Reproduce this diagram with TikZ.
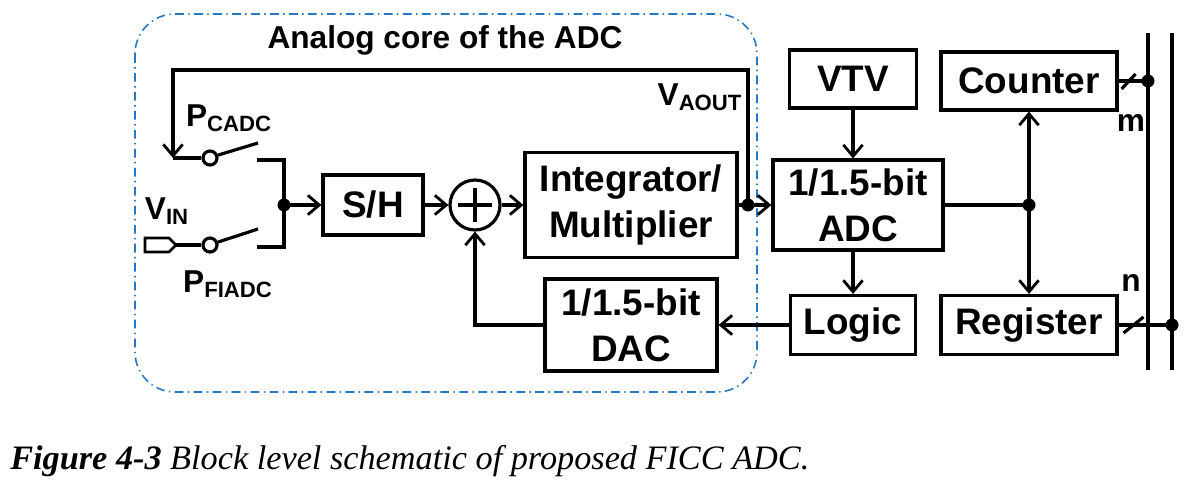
\documentclass[tikz,border=0pt]{standalone}
\usepackage{fontspec}
\setmainfont{Liberation Serif}
\setsansfont{Liberation Sans}
\usepackage{xcolor}
\usepackage{tikz}
\usetikzlibrary{calc}
\usetikzlibrary{arrows.meta}
\definecolor{coreblue}{RGB}{38,120,196}
\tikzstyle{wire} = [line width=1.8pt]
\tikzstyle{arrow} = [wire, -{Straight Barb[length=6.5pt,width=11pt,line width=1.6pt]}]
\tikzstyle{block} = [draw, line width=1.8pt, align=center, inner sep=0pt,
	font=\sffamily\bfseries\fontsize{21}{26}\selectfont]
\tikzstyle{lbl} = [font=\sffamily\bfseries\fontsize{18}{20}\selectfont, inner sep=0pt]
\tikzstyle{dot} = [circle, fill, inner sep=0pt, minimum size=0.26cm]
\tikzstyle{swpin} = [circle, draw, fill=white, line width=1.8pt, inner sep=0pt, minimum size=0.28cm]
\tikzstyle{core} = [draw=coreblue, line width=0.9pt, rounded corners=0.8cm,
	dash pattern=on 5pt off 2.5pt on 0.8pt off 2.5pt]

\begin{document}
\begin{tikzpicture}[x=0.02cm,y=-0.02cm]
	\useasboundingbox (0,0) rectangle (1186,489);

	% analog core
	\draw[core] (135,14) rectangle (757,392);
	\node[lbl] (title) at (445,40) {Analog core of the ADC};

	% blocks
	\node[block, minimum width=2cm, minimum height=1.2cm] (sh) at (373,205) {S/H};
	\node[circle, draw, line width=1.8pt, minimum size=1cm] (sum) at (475,205) {};
	\draw[wire] ([xshift=-0.34cm]sum.center) -- ([xshift=0.34cm]sum.center);
	\draw[wire] ([yshift=-0.34cm]sum.center) -- ([yshift=0.34cm]sum.center);
	\node[block, minimum width=4.24cm, minimum height=2.1cm] (integ) at (631,205) {Integrator/\\Multiplier};
	\node[block, minimum width=3.44cm, minimum height=1.84cm] (dac) at (631,325) {1/1.5-bit\\DAC};
	\node[block, minimum width=2.54cm, minimum height=1.16cm] (vtv) at (853,79) {VTV};
	\node[block, minimum width=3.4cm, minimum height=1.8cm] (adc) at (858,205) {1/1.5-bit\\ADC};
	\node[block, minimum width=2.5cm, minimum height=1.18cm] (logic) at (853,325) {Logic};
	\node[block, minimum width=3.52cm, minimum height=1.16cm] (cnt) at (1029,81) {Counter};
	\node[block, minimum width=3.52cm, minimum height=1.18cm] (reg) at (1029,325) {Register};

	% switches
	\coordinate (pcin) at (173,158);
	\node[swpin] (swc) at (210,158) {};
	\node[swpin] (swf) at (210,245) {};
	\coordinate (swcb) at (258,143);
	\coordinate (swfb) at (258,229);
	\coordinate (cct) at (257,160);
	\coordinate (ccb) at (257,247);
	\coordinate (jn) at (284,205);
	\coordinate (vin) at (176,245);
	\draw[wire, line width=1.5pt] (145,238) -- (169,238) -- (vin) -- (169,252) -- (145,252) -- cycle;
	\draw[wire] (vin) -- (swf.west);
	\draw[wire] (pcin) -- (swc.west);
	\draw[wire] (swc.20) -- (swcb);
	\draw[wire] (swf.20) -- (swfb);
	\draw[wire] (cct) -| (jn) |- (ccb);
	\node[dot] at (jn) {};

	\node[lbl] (pcadc) at (229,118) {P\textsubscript{CADC}};
	\node[lbl] (vinl) at (167,211) {V\textsubscript{IN}};
	\node[lbl] (pfiadc) at (228,284) {P\textsubscript{FIADC}};
	\node[lbl] (vaout) at (700,97) {V\textsubscript{AOUT}};

	% signal path
	\coordinate (aout) at (748,205);
	\draw[arrow] (jn) -- (sh.west);
	\draw[arrow] (sh.east) -- (sum.west);
	\draw[arrow] (sum.east) -- (integ.west);
	\draw[wire] (integ.east) -- (aout);
	\draw[arrow] (aout) -- (adc.west);
	\node[dot] at (aout) {};
	\draw[arrow] (aout) -- (748,70) -| (pcin);
	\draw[arrow] (vtv.south) -- (vtv.south |- adc.north);
	\draw[arrow] (logic.north |- adc.south) -- (logic.north);
	\draw[arrow] (logic.west) -- (dac.east);
	\draw[arrow] (dac.west) -| (sum.south);

	% digital side
	\coordinate (dd) at (1029,205);
	\draw[wire] (adc.east) -- (dd);
	\node[dot] at (dd) {};
	\draw[arrow] (dd) -- (cnt.south);
	\draw[arrow] (dd) -- (reg.north);

	% bus
	\coordinate (bat) at (1148,33);
	\coordinate (bab) at (1148,370);
	\coordinate (bbt) at (1172,33);
	\coordinate (bbb) at (1172,370);
	\draw[wire] (bat) -- (bab);
	\draw[wire] (bbt) -- (bbb);
	\draw[wire] (cnt.east) -- (cnt.east -| bat) node[dot] {};
	\draw[wire] (reg.east) -- (reg.east -| bbt) node[dot] {};
	\draw[wire] ($(cnt.east)+(3,8)$) -- ($(cnt.east)+(17,-7)$);
	\draw[wire] ($(reg.east)+(5,8)$) -- ($(reg.east)+(25,-8)$);
	\node[lbl] (mlbl) at (1131,123) {m};
	\node[lbl] (nlbl) at (1131,283) {n};

	% caption
	\node[anchor=base west, inner sep=0pt, font=\fontsize{19.5}{22}\selectfont] (cap) at (10,469)
		{\textbf{\textit{Figure 4-3}} \textit{Block level schematic of proposed FICC ADC.}};
\end{tikzpicture}
\end{document}
